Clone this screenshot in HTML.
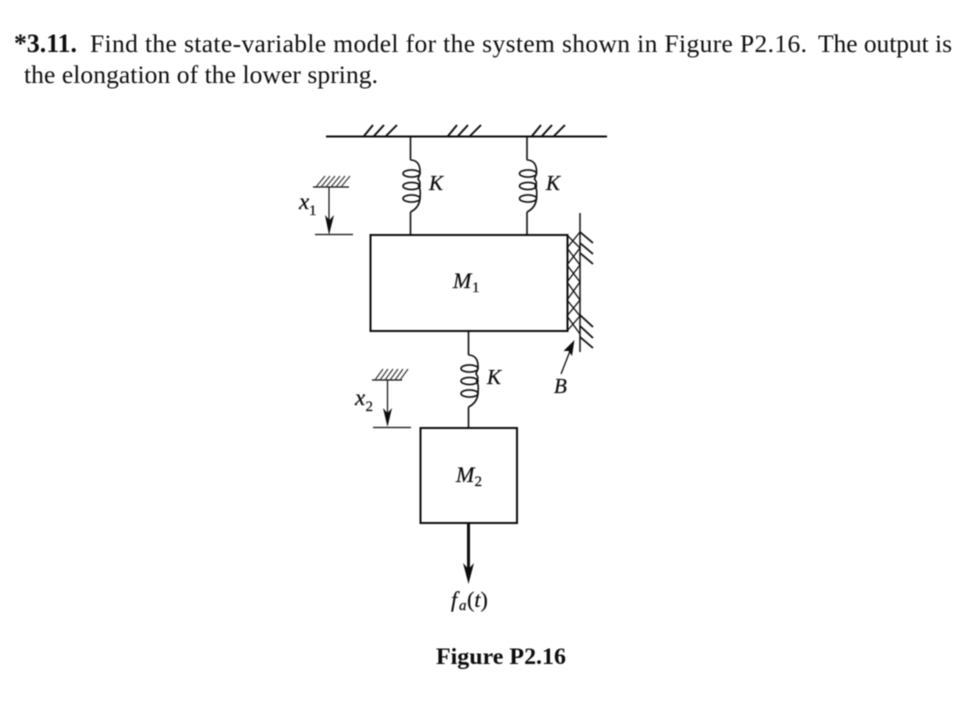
<!DOCTYPE html>
<html>
<head>
<meta charset="utf-8">
<style>
html,body{margin:0;padding:0;background:#fff;width:980px;height:715px;overflow:hidden}
svg{display:block}
text{fill:#111;font-family:"Liberation Serif",serif}
.i{font-style:italic;stroke:#111;stroke-width:.25}
.n{stroke:#111;stroke-width:.2}
.b{font-weight:bold}
</style>
</head>
<body>
<svg width="980" height="715" viewBox="0 0 980 715" xmlns="http://www.w3.org/2000/svg">
<defs>
<filter id="blur" x="-2%" y="-2%" width="104%" height="104%"><feGaussianBlur stdDeviation="0.45"/></filter>
<g id="spring" fill="none" stroke="#111" stroke-width="1.6">
  <path d="M0 24C6 24 10 28 9.500 37C9 40 8 41 7.500 43C10 46 10 48 8 50C10 53 10 56 9.500 62C9 70 4 74 0 76"/>
  <ellipse cx="1" cy="37.500" rx="8.500" ry="3.600"/>
  <ellipse cx="1" cy="50" rx="8.500" ry="3.600"/>
  <ellipse cx="1" cy="62.500" rx="8.500" ry="3.600"/>
</g>
</defs>
<rect width="980" height="715" fill="#fff"/>
<g filter="url(#blur)">
<text x="14" y="52" font-size="26" class="b" textLength="63" lengthAdjust="spacingAndGlyphs">*3.11.</text>
<text x="90" y="52" font-size="25.5" textLength="717" lengthAdjust="spacing">Find the state-variable model for the system shown in Figure P2.16.</text>
<text x="818" y="52" font-size="25.5" textLength="134" lengthAdjust="spacing">The output is</text>
<text x="24" y="83" font-size="25.5" textLength="354" lengthAdjust="spacing">the elongation of the lower spring.</text>

<g fill="none" stroke="#111" stroke-width="2">
  <path d="M326 136.500H607"/>
  <path stroke-width="1.900" d="M364 136L373 125M374 136L384 125M386 136L397 125M448 136L457 125M458 136L468 125M470 136L481 125M532 136L541 125M542 136L552 125M554 136L565 125"/>
  <rect x="370.500" y="235" width="197" height="96"/>
  <rect x="420.500" y="428" width="96.500" height="95"/>
  <path stroke-width="1.500" d="M580 213V352"/>
  <path stroke-width="1.800" d="M580 232L593 243M580 243L593 254M580 253L593 264M580 315L593 327M580 326L593 338M580 337L593 348"/>
  <path stroke-width="1.300" d="M567 235L580 248L567 265L580 282L567 300L580 316L567 331M580 232L567 248L580 265L567 282L580 300L567 316L580 334"/>
  <path stroke-width="1.300" d="M315 234.500H353M373 427.500H411"/>
  <path stroke-width="1.200" d="M329 187V222M387.500 380V415"/>
  <path stroke-width="1.300" d="M313 187H349M372 380H402"/>
  <path stroke-width="1.100" stroke="#333" d="M316 187L325 176M321 187L330 176M326 187L335 176M331 187L340 176M336 187L345 176M341 187L350 176M375 380L383 369M380 380L388 369M385 380L393 369M390 380L398 369M395 380L403 369M400 380L408 369"/>
  <path stroke-width="3" d="M468.500 523V570"/>
  <path stroke-width="1.300" d="M561 374L570 351"/>
  <path stroke-width="1.600" d="M410.500 136V160M410.500 212V235M527 136V160M527 212V235M468.500 331V355M468.500 407V428"/>
</g>
<path d="M325 215L329.500 220L334 215L329 235Z" fill="#111"/>
<path d="M383 408L387.500 413L392 408L387.500 427Z" fill="#111"/>
<path d="M463 563L468.500 569L474 563L468.500 584Z" fill="#111"/>
<path d="M574.500 340L572 356L568.500 351L563.500 351Z" fill="#111"/>

<use href="#spring" x="410.500" y="136"/>
<use href="#spring" x="527" y="136"/>
<use href="#spring" x="468.500" y="331"/>

<text x="429" y="190" font-size="21" class="i">K</text>
<text x="546" y="190" font-size="21" class="i">K</text>
<text x="487" y="384" font-size="21" class="i">K</text>
<text x="554" y="393" font-size="21" class="i">B</text>
<text x="453" y="288" font-size="22" class="i">M</text><text x="472" y="292" font-size="15" class="n">1</text>
<text x="456" y="482" font-size="22" class="i">M</text><text x="474.500" y="486" font-size="15" class="n">2</text>
<text x="299" y="209" font-size="23" class="i">x</text><text x="309" y="215" font-size="15" class="n">1</text>
<text x="355" y="405" font-size="23" class="i">x</text><text x="365.500" y="411" font-size="15" class="n">2</text>
<text x="451" y="607" font-size="22" class="i">f</text><text x="459" y="610" font-size="15" class="i">a</text><text x="467" y="607" font-size="22" class="n">(<tspan class="i">t</tspan>)</text>
<text x="436" y="664" font-size="23.500" class="b" textLength="130" lengthAdjust="spacingAndGlyphs">Figure P2.16</text>
</g>
</svg>
</body>
</html>
